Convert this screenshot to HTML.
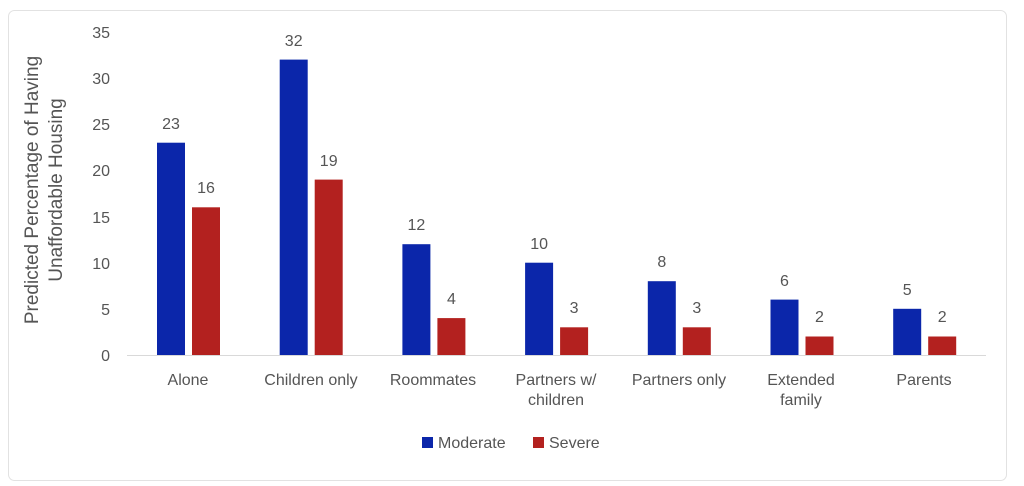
<!DOCTYPE html>
<html><head><style>
body{margin:0;background:#fff;}
svg text{font-family:"Liberation Sans",sans-serif;fill:#555;}
</style></head><body>
<svg width="1024" height="481" xmlns="http://www.w3.org/2000/svg">
<rect x="8.5" y="10.5" width="998" height="470" rx="6" fill="#fff" stroke="#e2e2e2"/>
<g font-size="19" text-anchor="middle">
<text transform="translate(38,190) rotate(-90)">Predicted Percentage of Having</text>
<text transform="translate(62,190) rotate(-90)">Unaffordable Housing</text>
</g>
<g font-size="16" text-anchor="end">
<text x="110" y="361">0</text><text x="110" y="315">5</text><text x="110" y="269">10</text>
<text x="110" y="223">15</text><text x="110" y="176">20</text><text x="110" y="130">25</text>
<text x="110" y="84">30</text><text x="110" y="38">35</text>
</g>
<line x1="127" y1="355.5" x2="986" y2="355.5" stroke="#d9d9d9"/>
<g fill="#0b26aa">
<rect x="157" y="142.7" width="28" height="212.3"/>
<rect x="279.7" y="59.6" width="28" height="295.4"/>
<rect x="402.4" y="244.2" width="28" height="110.8"/>
<rect x="525.1" y="262.7" width="28" height="92.3"/>
<rect x="647.8" y="281.2" width="28" height="73.8"/>
<rect x="770.5" y="299.6" width="28" height="55.4"/>
<rect x="893.2" y="308.8" width="28" height="46.2"/>
</g>
<g fill="#b3211f">
<rect x="192" y="207.3" width="28" height="147.7"/>
<rect x="314.7" y="179.6" width="28" height="175.4"/>
<rect x="437.4" y="318.1" width="28" height="36.9"/>
<rect x="560.1" y="327.3" width="28" height="27.7"/>
<rect x="682.8" y="327.3" width="28" height="27.7"/>
<rect x="805.5" y="336.5" width="28" height="18.5"/>
<rect x="928.2" y="336.5" width="28" height="18.5"/>
</g>
<g font-size="16" text-anchor="middle">
<text x="171" y="129">23</text><text x="206" y="193">16</text>
<text x="293.7" y="46">32</text><text x="328.7" y="166">19</text>
<text x="416.4" y="230">12</text><text x="451.4" y="304">4</text>
<text x="539.1" y="249">10</text><text x="574.1" y="313">3</text>
<text x="661.8" y="267">8</text><text x="696.8" y="313">3</text>
<text x="784.5" y="286">6</text><text x="819.5" y="322">2</text>
<text x="907.2" y="295">5</text><text x="942.2" y="322">2</text>
</g>
<g font-size="16" text-anchor="middle">
<text x="188" y="385">Alone</text>
<text x="311" y="385">Children only</text>
<text x="433" y="385">Roommates</text>
<text x="556" y="385">Partners w/</text><text x="556" y="405">children</text>
<text x="679" y="385">Partners only</text>
<text x="801" y="385">Extended</text><text x="801" y="405">family</text>
<text x="924" y="385">Parents</text>
</g>
<rect x="422" y="437" width="11" height="11" fill="#0b26aa"/>
<text x="438" y="448" font-size="16">Moderate</text>
<rect x="533" y="437" width="11" height="11" fill="#b3211f"/>
<text x="549" y="448" font-size="16">Severe</text>
</svg>
</body></html>
